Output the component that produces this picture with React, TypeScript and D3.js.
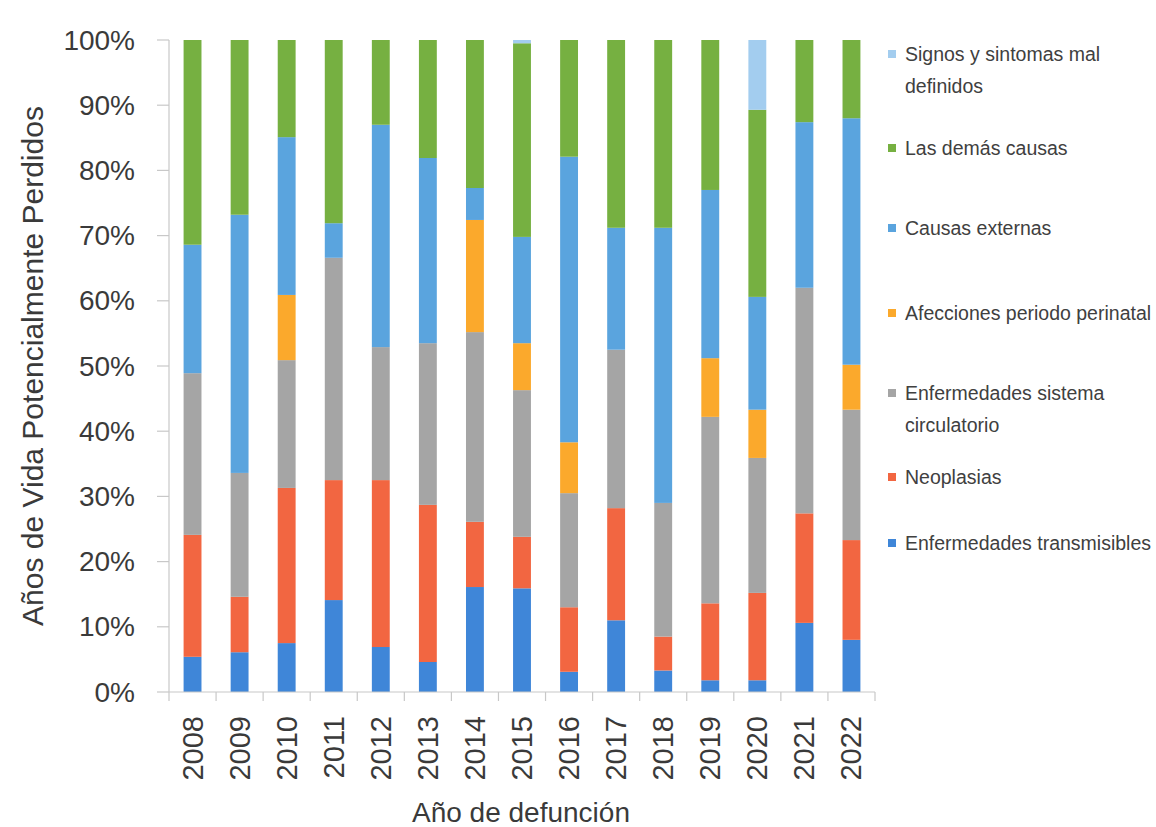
import React from "react";
import * as d3 from "d3";

// años de defunción
const years = ["2008", "2009", "2010", "2011", "2012", "2013", "2014", "2015", "2016", "2017", "2018", "2019", "2020", "2021", "2022"];

// porcentaje de AVPP por grupo de causa (de abajo hacia arriba)
const transmisibles = [5.4, 6.1, 7.5, 14.1, 6.9, 4.6, 16.1, 15.9, 3.1, 11.0, 3.3, 1.8, 1.8, 10.6, 8.0];
const neoplasias = [18.7, 8.5, 23.8, 18.4, 25.6, 24.1, 10.0, 7.9, 9.9, 17.2, 5.2, 11.8, 13.4, 16.8, 15.3];
const circulatorio = [24.8, 19.0, 19.6, 34.1, 20.4, 24.8, 29.1, 22.5, 17.5, 24.3, 20.5, 28.6, 20.7, 34.6, 20.0];
const perinatal = [0, 0, 10.0, 0, 0, 0, 17.2, 7.2, 7.8, 0, 0, 9.0, 7.4, 0, 6.9];
const externas = [19.7, 39.6, 24.2, 5.3, 34.1, 28.4, 4.9, 16.3, 43.8, 18.7, 42.2, 25.8, 17.3, 25.4, 37.8];
const demas = [31.4, 26.8, 14.9, 28.1, 13.0, 18.1, 22.7, 29.7, 17.9, 28.8, 28.8, 23.0, 28.7, 12.6, 12.0];
const signos = [0, 0, 0, 0, 0, 0, 0, 0.5, 0, 0, 0, 0, 10.7, 0, 0];

const yTicks = [0, 10, 20, 30, 40, 50, 60, 70, 80, 90, 100];

const seriesKeys = ["trans", "neo", "circ", "peri", "ext", "demas", "signos"];
const seriesValues = [transmisibles, neoplasias, circulatorio, perinatal, externas, demas, signos];
const seriesLabels = [
  ["Enfermedades transmisibles"],
  ["Neoplasias"],
  ["Enfermedades sistema", "circulatorio"],
  ["Afecciones periodo perinatal"],
  ["Causas externas"],
  ["Las demás causas"],
  ["Signos y sintomas mal", "definidos"],
];
const colors = ["#3f86d8", "#f26641", "#a5a5a5", "#fba92c", "#5aa4de", "#76b041", "#a3cdef"];

// posiciones verticales de la leyenda (Excel la reparte asi)
const legendY = [543, 477, 393, 313, 228, 148, 54];

const FONT = "'Liberation Sans', Arial, sans-serif";

export default function App() {
  const W = 1156;
  const H = 827;
  const margin = { top: 40, left: 169, right: 281, bottom: 135 };

  const table = years.map((yr, i) => {
    const row: any = { year: yr };
    seriesKeys.forEach((k, j) => (row[k] = seriesValues[j][i]));
    return row;
  });

  const stacked = d3.stack().keys(seriesKeys)(table);

  const x = d3
    .scaleBand()
    .domain(years)
    .range([margin.left, W - margin.right])
    .paddingInner(0.62)
    .paddingOuter(0.31);

  const y = d3
    .scaleLinear()
    .domain([0, 100])
    .range([H - margin.bottom, margin.top]);

  const color = d3.scaleOrdinal<string, string>().domain(seriesKeys).range(colors);

  const step = x.step();
  const bottom = y(0);
  const boundaries = years.map((yr) => (x(yr) as number) - (step - x.bandwidth()) / 2);
  boundaries.push(W - margin.right);

  return (
    <svg width={W} height={H} style={{ position: "absolute", left: 0, top: 0, background: "#fff" }}>
      {/* barras apiladas */}
      {stacked.map((s) => (
        <g key={s.key} fill={color(s.key)}>
          {s.map((d, i) =>
            d[1] - d[0] > 0 ? (
              <rect
                key={i}
                x={x(years[i])}
                y={y(d[1])}
                width={x.bandwidth()}
                height={y(d[0]) - y(d[1])}
              />
            ) : null
          )}
        </g>
      ))}

      {/* eje y */}
      <line x1={margin.left} x2={margin.left} y1={y(100)} y2={bottom} stroke="#c8c8c8" strokeWidth={1.2} />
      {yTicks.map((t) => (
        <g key={t}>
          <line x1={margin.left - 12} x2={margin.left} y1={y(t)} y2={y(t)} stroke="#c8c8c8" strokeWidth={1.2} />
          <text
            x={135}
            y={y(t)}
            textAnchor="end"
            dominantBaseline="central"
            fontFamily={FONT}
            fontSize={28}
            fill="#3a3a3a"
          >
            {t + "%"}
          </text>
        </g>
      ))}

      {/* eje x */}
      <line x1={margin.left} x2={W - margin.right} y1={bottom} y2={bottom} stroke="#c8c8c8" strokeWidth={1.2} />
      {boundaries.map((bx, i) => (
        <line key={i} x1={bx} x2={bx} y1={bottom} y2={bottom + 9} stroke="#c8c8c8" strokeWidth={1.2} />
      ))}
      {years.map((yr) => {
        const cx = (x(yr) as number) + x.bandwidth() / 2;
        return (
          <text
            key={yr}
            transform={`translate(${cx},${bottom + 24}) rotate(-90)`}
            textAnchor="end"
            dominantBaseline="central"
            fontFamily={FONT}
            fontSize={29}
            fill="#3a3a3a"
          >
            {yr}
          </text>
        );
      })}

      {/* titulos */}
      <text x={521} y={822} textAnchor="middle" fontFamily={FONT} fontSize={28} fill="#3a3a3a">
        Año de defunción
      </text>
      <text
        transform={`translate(43,${(y(0) + y(100)) / 2}) rotate(-90)`}
        textAnchor="middle"
        fontFamily={FONT}
        fontSize={30}
        fill="#3a3a3a"
      >
        Años de Vida Potencialmente Perdidos
      </text>

      {/* leyenda */}
      {seriesKeys.map((k, j) => (
        <g key={k} transform={`translate(888,${legendY[j]})`}>
          <rect x={0} y={-4} width={8} height={8} fill={color(k)} />
          {seriesLabels[j].map((line, li) => (
            <text
              key={li}
              x={17}
              y={li * 32}
              dominantBaseline="central"
              fontFamily={FONT}
              fontSize={19.5}
              fill="#404040"
            >
              {line}
            </text>
          ))}
        </g>
      ))}
    </svg>
  );
}
